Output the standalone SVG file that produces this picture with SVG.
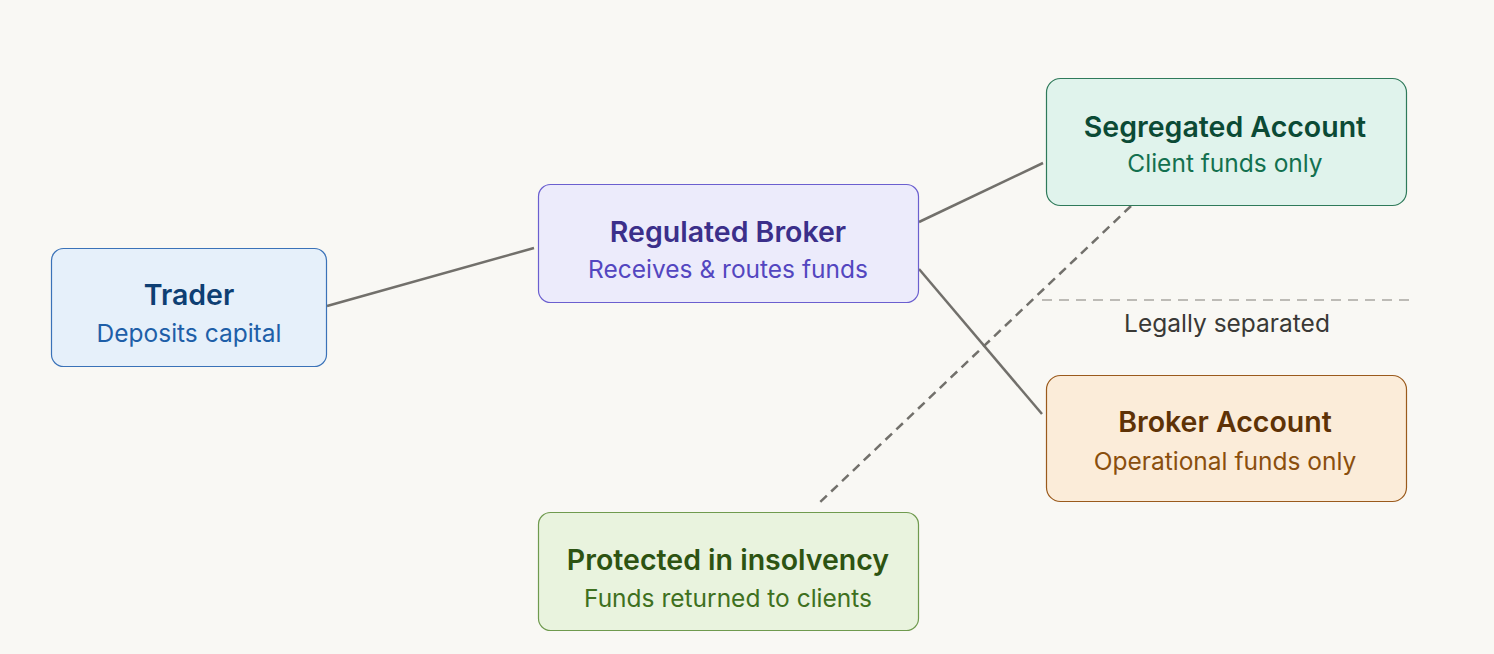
<svg xmlns="http://www.w3.org/2000/svg" width="1494" height="654" viewBox="0 0 1494 654">
<style>
.t{font-family:Inter,"Open Sans","Liberation Sans",sans-serif;font-weight:600;font-size:28.5px;text-anchor:middle}
.s{font-family:Inter,"Open Sans","Liberation Sans",sans-serif;font-weight:400;font-size:24.5px;text-anchor:middle}
.c{stroke:#72706b;stroke-width:2.5;fill:none}
</style>
<rect width="1494" height="654" fill="#f9f8f4"/>
<g id="connectors">
<line class="c" x1="327" y1="306" x2="534" y2="248"/>
<line class="c" x1="919" y1="222" x2="1043" y2="163"/>
<line class="c" x1="919" y1="269" x2="1042" y2="414"/>
<line class="c" x1="1131" y1="206" x2="817" y2="505" stroke-dasharray="9 6"/>
<line x1="1042" y1="300" x2="1414" y2="300" stroke="#bdbbb6" stroke-width="2" stroke-dasharray="10 7"/>
<text class="s" x="1227" y="332" fill="#3a3936">Legally separated</text>
</g>
<g id="trader">
<rect x="51.5" y="248.5" width="275" height="118" rx="12" fill="#e6f0fa" stroke="#3a72b8" stroke-width="1.2"/>
<text class="t" x="189" y="305" fill="#0e3f73">Trader</text>
<text class="s" x="189" y="342" fill="#1e5fa8">Deposits capital</text>
</g>
<g id="broker">
<rect x="538.5" y="184.5" width="380" height="118" rx="12" fill="#ecebfb" stroke="#6b5fcf" stroke-width="1.2"/>
<text class="t" x="728" y="242" fill="#3b2f8a">Regulated Broker</text>
<text class="s" x="728" y="278" fill="#5346c0">Receives &amp; routes funds</text>
</g>
<g id="segregated">
<rect x="1046.5" y="78.5" width="360" height="127" rx="14" fill="#e0f3ec" stroke="#2f7a5a" stroke-width="1.2"/>
<text class="t" x="1225" y="137" fill="#0b4a35">Segregated Account</text>
<text class="s" x="1225" y="172" fill="#13704f">Client funds only</text>
</g>
<g id="brokeraccount">
<rect x="1046.5" y="375.5" width="360" height="126" rx="14" fill="#fbecd9" stroke="#9a5a1c" stroke-width="1.2"/>
<text class="t" x="1225" y="432" fill="#5e3206">Broker Account</text>
<text class="s" x="1225" y="470" fill="#8a4f0e">Operational funds only</text>
</g>
<g id="protected">
<rect x="538.5" y="512.5" width="380" height="118" rx="12" fill="#e9f3de" stroke="#6f9a4e" stroke-width="1.2"/>
<text class="t" x="728" y="570" fill="#2d5312">Protected in insolvency</text>
<text class="s" x="728" y="607" fill="#3e7020">Funds returned to clients</text>
</g>
</svg>
